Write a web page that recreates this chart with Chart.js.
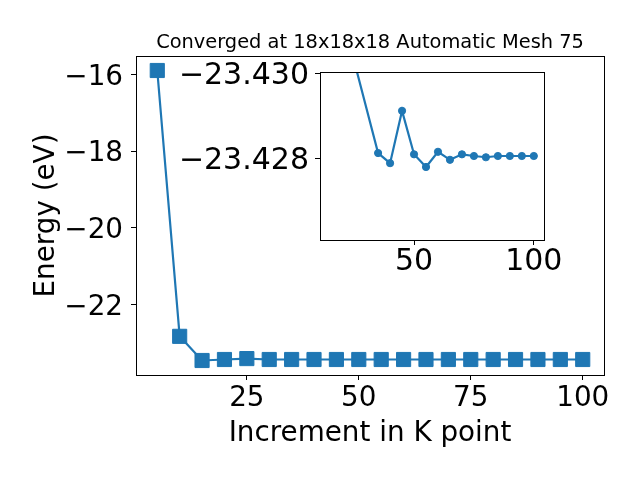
<!DOCTYPE html>
<html>
<head>
<meta charset="utf-8">
<script src="https://cdn.jsdelivr.net/npm/chart.js@4/dist/chart.umd.min.js"></script>
<style>
  html, body { margin: 0; padding: 0; background: #fff; }
  #wrap { position: relative; width: 640px; height: 480px; }
  canvas { position: absolute; left: 0; top: 0; }
</style>
</head>
<body>
<div id="wrap">
  <canvas id="main" width="640" height="480"></canvas>
  <canvas id="inset" width="640" height="480"></canvas>
</div>
<script>
// ---- data ----
const kPoints = [5, 10, 15, 20, 25, 30, 35, 40, 45, 50, 55, 60, 65, 70, 75, 80, 85, 90, 95, 100];
const energies = [-15.90, -22.83, -23.46, -23.434, -23.41, -23.434, -23.434, -23.434, -23.434, -23.434,
                  -23.434, -23.434, -23.434, -23.434, -23.434, -23.434, -23.434, -23.434, -23.434, -23.434];
const insetK = [25, 35, 40, 45, 50, 55, 60, 65, 70, 75, 80, 85, 90, 95, 100];
const insetE = [-23.4303, -23.42812, -23.42788, -23.42912, -23.42809, -23.42779, -23.42815, -23.42796,
                -23.42809, -23.42805, -23.42802, -23.42805, -23.42805, -23.42805, -23.42805];
const mainXTicks = [25, 50, 75, 100];
const mainYTicks = [-22, -20, -18, -16];
const insetXTicks = [50, 100];
const insetYTicks = [-23.430, -23.428];
const titleText = 'Converged at 18x18x18 Automatic Mesh 75';
const xLabel = 'Increment in K point';
const yLabel = 'Energy (eV)';

const BLUE = '#1f77b4';
const FONT = 'DejaVu Sans';
const minus = (v, d) => (v < 0 ? '\u2212' : '') + Math.abs(v).toFixed(d);

function pts(xs, ys) { return xs.map((x, i) => ({x: x, y: ys[i]})); }

const framePlugin = {
  id: 'frame',
  beforeDraw(chart, args, opts) {
    if (opts.bg) {
      const a = chart.chartArea, c = chart.ctx;
      c.save(); c.fillStyle = '#fff';
      c.fillRect(a.left, a.top, a.right - a.left, a.bottom - a.top);
      c.restore();
    }
  },
  afterDraw(chart, args, opts) {
    const a = chart.chartArea, c = chart.ctx;
    c.save();
    c.strokeStyle = '#000'; c.lineWidth = 1;
    c.strokeRect(Math.round(a.left) + 0.5, Math.round(a.top) + 0.5,
                 Math.round(a.right - a.left), Math.round(a.bottom - a.top));
    if (opts.title) {
      c.fillStyle = '#000';
      c.font = '19.4px "' + FONT + '"';
      c.textAlign = 'center'; c.textBaseline = 'middle';
      c.fillText(opts.title, (a.left + a.right) / 2, 42.5);
    }
    c.restore();
  }
};

function axisCommon(size, ticksArr, dec, pad, lblOff) {
  return {
    type: 'linear',
    afterBuildTicks: (s) => { s.ticks = ticksArr.map(v => ({value: v})); },
    grid: { drawOnChartArea: false, drawTicks: true, tickLength: 5, tickWidth: 1, tickColor: '#000' },
    border: { display: false },
    ticks: {
      color: '#000', padding: pad, autoSkip: false, maxRotation: 0, labelOffset: lblOff || 0,
      font: { family: FONT, size: size, lineHeight: 1 },
      callback: (v) => minus(v, dec)
    }
  };
}

// ---- main chart ----
const mx = axisCommon(27.8, mainXTicks, 0, 5, 0);
mx.min = 0.25; mx.max = 104.75;
mx.afterFit = (s) => { s.height = 105; };
mx.title = { display: true, text: xLabel, color: '#000', font: { family: FONT, size: 27.8, lineHeight: 1 }, padding: { top: 0, bottom: 32 } };
const my = axisCommon(27.8, mainYTicks, 0, 8, 3);
my.min = -23.838; my.max = -15.522;
my.afterFit = (s) => { s.width = 136; };
my.title = { display: true, text: yLabel, color: '#000', font: { family: FONT, size: 27.8, lineHeight: 1 }, padding: { top: 33, bottom: 0 } };

new Chart(document.getElementById('main'), {
  type: 'line',
  data: { datasets: [{
    data: pts(kPoints, energies),
    borderColor: BLUE, backgroundColor: BLUE, borderWidth: 2.2,
    pointStyle: 'rect', pointRadius: 10, pointBorderWidth: 1, pointBorderColor: BLUE,
    pointBackgroundColor: BLUE, tension: 0
  }]},
  options: {
    responsive: false, animation: false, devicePixelRatio: 1,
    layout: { padding: { left: 0, right: 36, top: 56, bottom: 0 } },
    plugins: { legend: { display: false }, tooltip: { enabled: false }, frame: { title: titleText } },
    scales: { x: mx, y: my }
  },
  plugins: [framePlugin]
});

// ---- inset chart ----
const ix = axisCommon(30, insetXTicks, 0, 2, 0);
ix.min = 10.75; ix.max = 104.25;
ix.afterFit = (s) => { s.height = 240; };
const iy = axisCommon(30, insetYTicks, 3, 6, 3);
iy.min = -23.43004; iy.max = -23.42606; iy.reverse = true;
iy.afterFit = (s) => { s.width = 320; };

new Chart(document.getElementById('inset'), {
  type: 'line',
  data: { datasets: [{
    data: pts(insetK, insetE),
    borderColor: BLUE, backgroundColor: BLUE, borderWidth: 2.2,
    pointStyle: 'circle', pointRadius: 3.6, pointBorderWidth: 1, pointBorderColor: BLUE,
    pointBackgroundColor: BLUE, tension: 0
  }]},
  options: {
    responsive: false, animation: false, devicePixelRatio: 1,
    layout: { padding: { left: 0, right: 96, top: 72, bottom: 0 } },
    events: [],
    plugins: { legend: { display: false }, tooltip: { enabled: false }, frame: { bg: true } },
    scales: { x: ix, y: iy }
  },
  plugins: [framePlugin]
});
</script>
</body>
</html>
